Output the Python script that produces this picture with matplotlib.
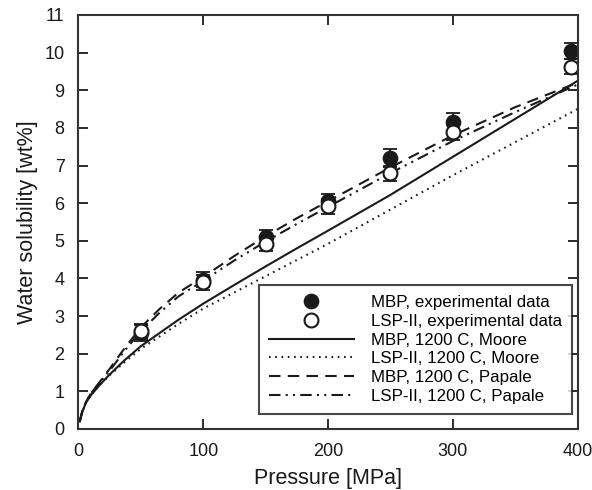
import matplotlib
matplotlib.use("Agg")
import matplotlib.pyplot as plt

plt.rcParams["font.family"] = ["Liberation Sans", "DejaVu Sans"]

# experimental data
p_exp = [50, 100, 150, 200, 250, 300, 395]
mbp_exp = [2.55, 3.97, 5.1, 6.05, 7.2, 8.15, 10.04]
mbp_err = [0.2, 0.2, 0.2, 0.2, 0.25, 0.25, 0.22]
lsp_exp = [2.6, 3.9, 4.92, 5.92, 6.8, 7.88, 9.63]
lsp_err = [0.2, 0.2, 0.2, 0.2, 0.2, 0.2, 0.2]

# model curves
p_mod = [1, 3, 6, 10, 17, 25, 37, 50, 65, 80, 100, 125, 150, 175, 200, 250, 300, 350, 400]
mbp_moore = [0.2, 0.45, 0.7, 0.9, 1.17, 1.45, 1.83, 2.2, 2.55, 2.9, 3.33, 3.83, 4.32, 4.8, 5.27, 6.22, 7.23, 8.24, 9.25]
lsp_moore = [0.2, 0.45, 0.7, 0.9, 1.17, 1.43, 1.78, 2.13, 2.46, 2.79, 3.2, 3.63, 4.06, 4.49, 4.92, 5.83, 6.74, 7.62, 8.5]
mbp_papale = [0.2, 0.47, 0.72, 0.95, 1.25, 1.6, 2.15, 2.7, 3.19, 3.62, 4.04, 4.6, 5.12, 5.6, 6.05, 6.95, 7.8, 8.55, 9.2]
lsp_papale = [0.2, 0.47, 0.72, 0.95, 1.23, 1.55, 2.08, 2.6, 3.09, 3.52, 3.94, 4.48, 4.98, 5.45, 5.9, 6.8, 7.65, 8.42, 9.15]

fig = plt.figure(figsize=(5.92, 4.9), dpi=100)
ax = fig.add_axes([0.1326, 0.1245, 0.843, 0.8449])

c = "#1a1a1a"
lw = 1.5
l1, = ax.plot(p_mod, mbp_moore, "-", color=c, lw=lw)
l2, = ax.plot(p_mod, lsp_moore, color=c, lw=lw, linestyle=(0, (0.8, 2.2)))
l3, = ax.plot(p_mod, mbp_papale, color=c, lw=lw, linestyle=(0, (5.5, 3.5)))
l4, = ax.plot(p_mod, lsp_papale, color=c, lw=lw, linestyle=(0, (5.5, 2.5, 1, 2.5, 1, 2.5)))

ax.errorbar(p_exp, mbp_exp, yerr=mbp_err, fmt="none", ecolor=c, elinewidth=1.3, capsize=5, capthick=1.3)
ax.errorbar(p_exp, lsp_exp, yerr=lsp_err, fmt="none", ecolor=c, elinewidth=1.3, capsize=5, capthick=1.3)
m1, = ax.plot(p_exp, mbp_exp, "o", ms=10, mfc=c, mec=c, mew=1.3, ls="none")
m2, = ax.plot(p_exp, lsp_exp, "o", ms=10, mfc="white", mec=c, mew=1.5, ls="none")

ax.set_xlim(0, 400)
ax.set_ylim(0, 11)
ax.set_xticks(range(0, 401, 100))
ax.set_yticks(range(0, 12))
ax.tick_params(direction="in", length=7, width=1.3, top=True, right=True,
               labelsize=13, colors=c, pad=10)
for s in ax.spines.values():
    s.set_linewidth(1.5)
    s.set_color("#333333")

ax.set_xlabel("Pressure [MPa]", fontsize=15.5, color=c, labelpad=6)
ax.set_ylabel("Water solubility [wt%]", fontsize=15.5, color=c, labelpad=4.5)

leg = ax.legend([m1, m2, l1, l2, l3, l4],
                ["MBP, experimental data", "LSP-II, experimental data",
                 "MBP, 1200 C, Moore", "LSP-II, 1200 C, Moore",
                 "MBP, 1200 C, Papale", "LSP-II, 1200 C, Papale"],
                loc="lower right", bbox_to_anchor=(572 / 592, (490 - 414) / 490),
                bbox_transform=fig.transFigure, fontsize=12.2, frameon=True,
                fancybox=False, edgecolor=c, handlelength=5.0, handletextpad=1.0,
                labelspacing=0.22, borderpad=0.6, borderaxespad=0)
leg.get_frame().set_linewidth(1.5)

fig.savefig("out.png", dpi=100)
